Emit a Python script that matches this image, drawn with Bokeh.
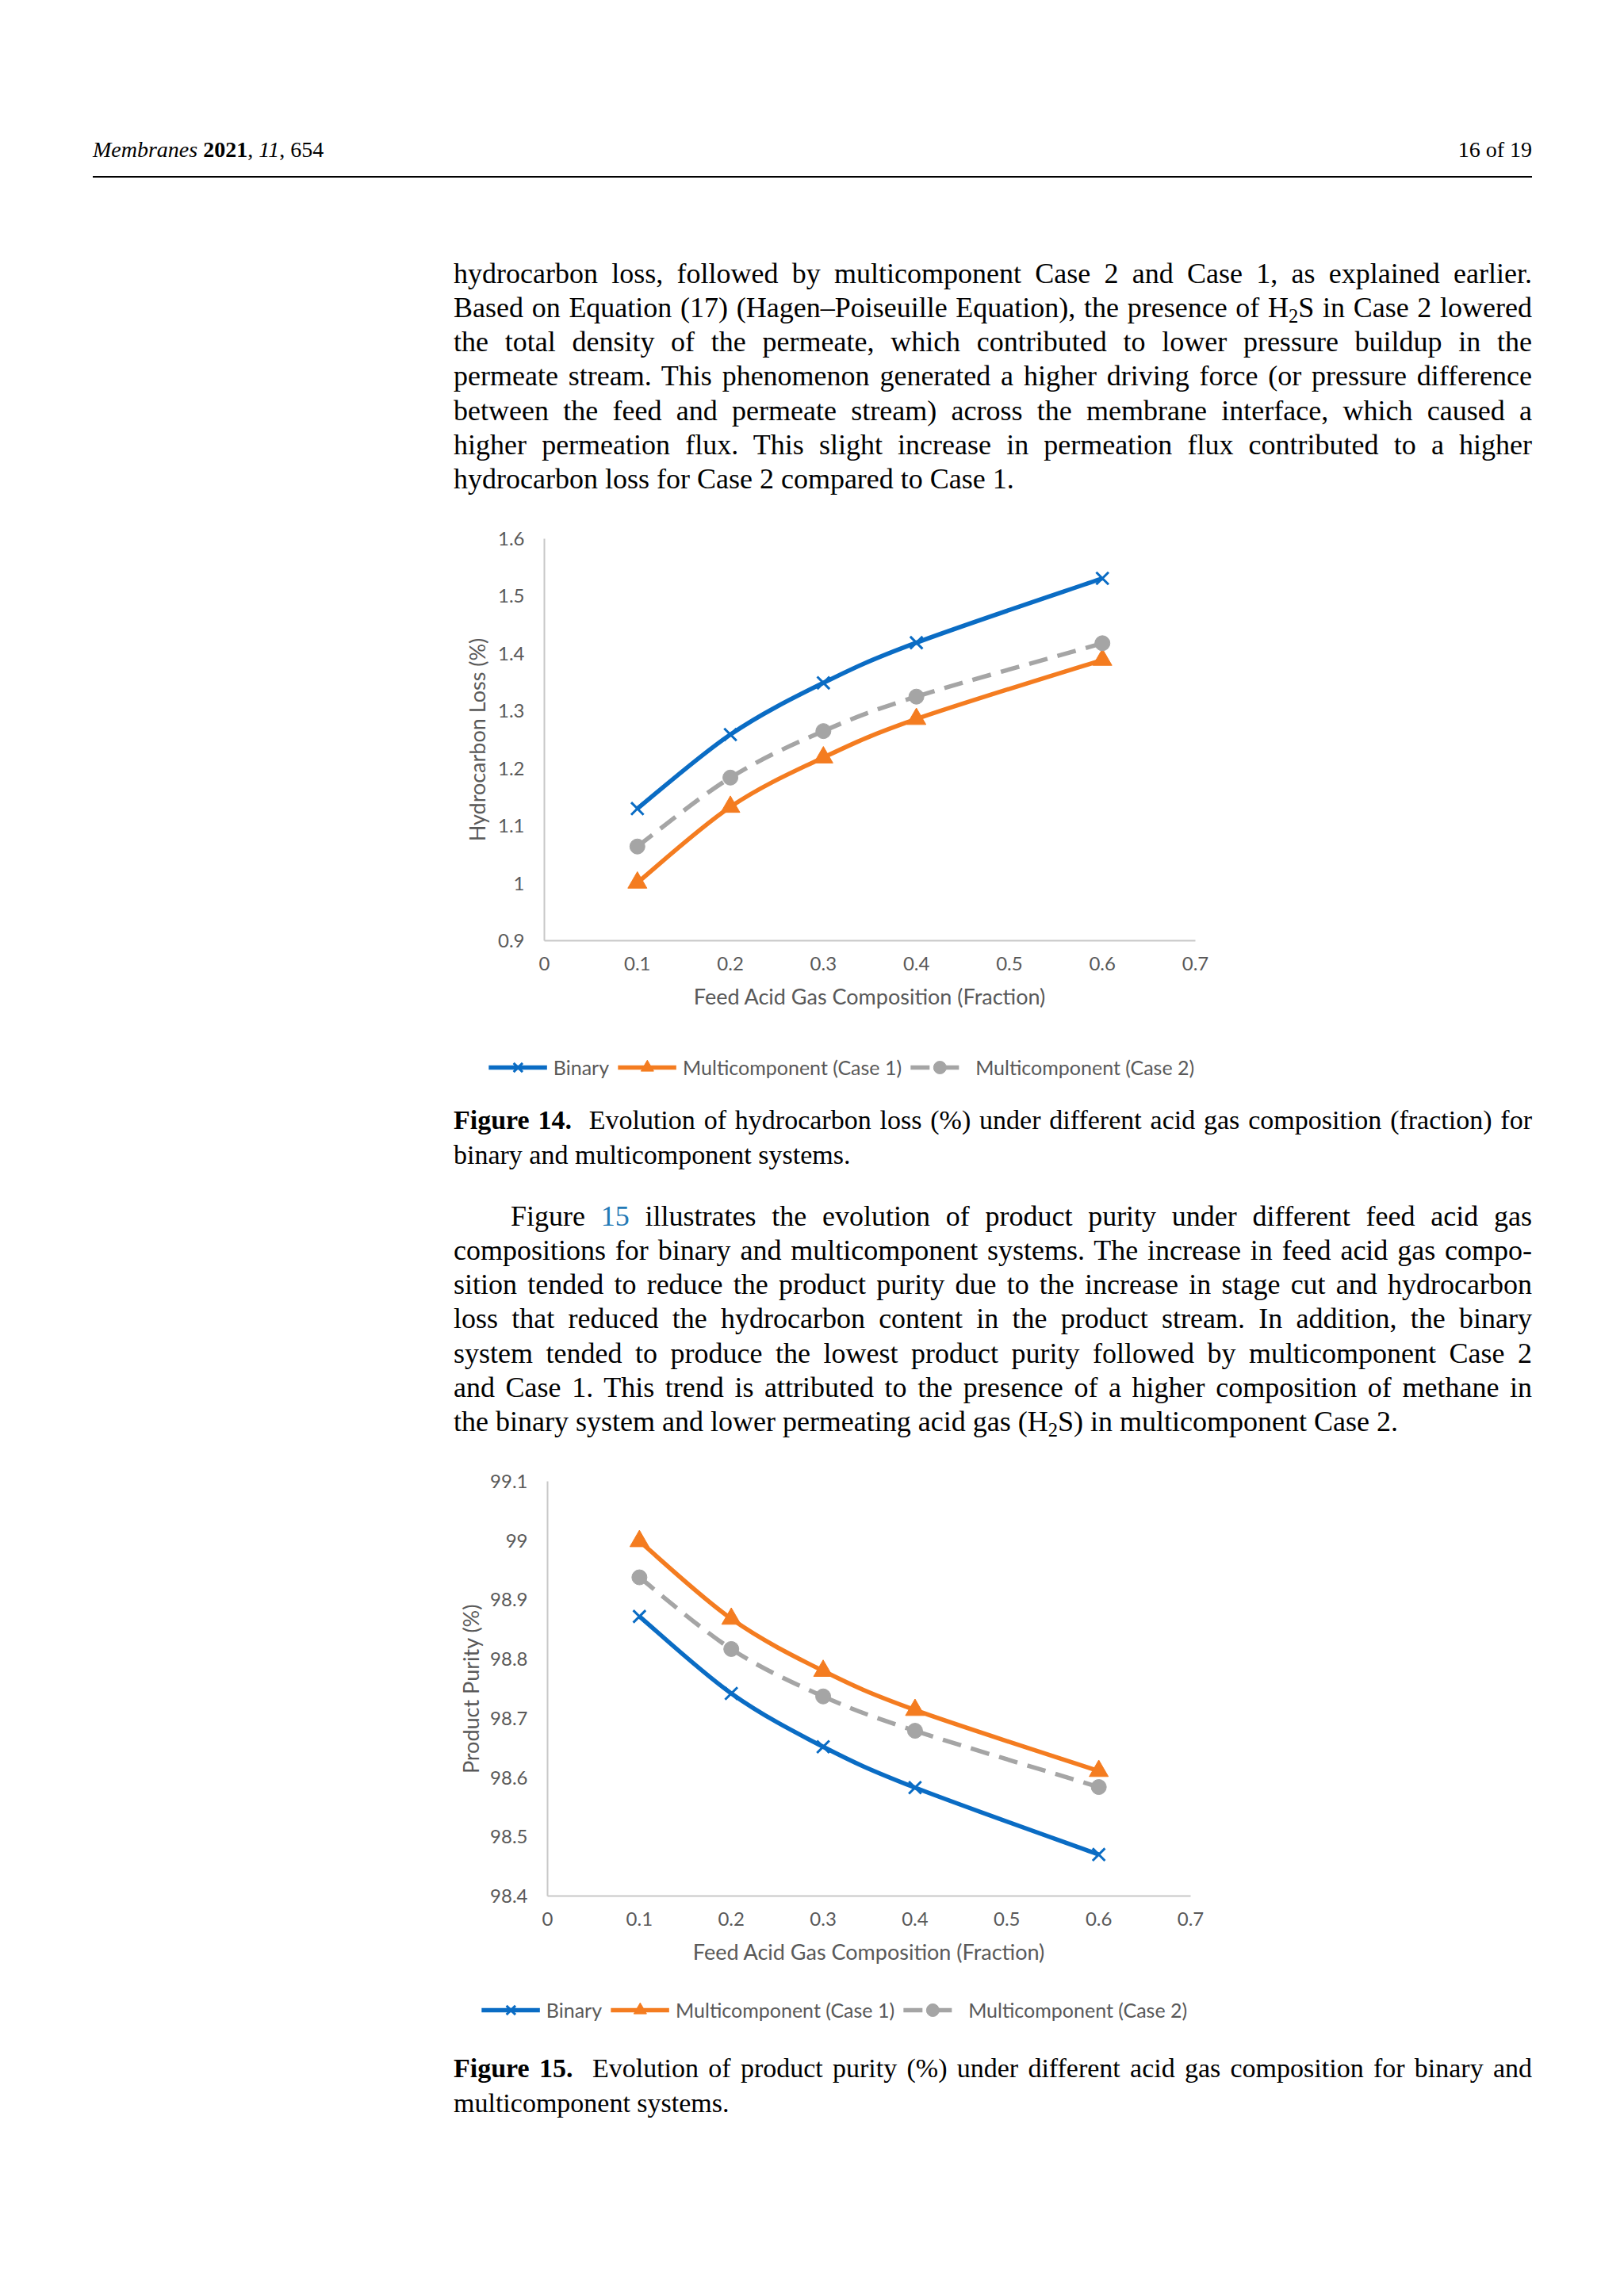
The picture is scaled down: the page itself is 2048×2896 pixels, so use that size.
import numpy as np
from bokeh.plotting import figure
from bokeh.models import Range1d, FixedTicker, Legend, LegendItem, Div, Column, Row
from bokeh.embed import file_html
from bokeh.resources import INLINE

# ---------------- data ----------------
x_frac = [0.1, 0.2, 0.3, 0.4, 0.6]
series_names = ["Binary", "Multicomponent (Case 1)", "Multicomponent (Case 2)"]

loss_binary = [1.130, 1.259, 1.349, 1.419, 1.531]
loss_case1 = [1.001, 1.133, 1.219, 1.286, 1.389]
loss_case2 = [1.064, 1.184, 1.265, 1.325, 1.418]

purity_binary = [98.872, 98.742, 98.652, 98.583, 98.470]
purity_case1 = [98.999, 98.868, 98.780, 98.714, 98.611]
purity_case2 = [98.938, 98.817, 98.737, 98.679, 98.584]

x_ticks = [0, 0.1, 0.2, 0.3, 0.4, 0.5, 0.6, 0.7]
x_tick_labels = ["0", "0.1", "0.2", "0.3", "0.4", "0.5", "0.6", "0.7"]
loss_ticks = [0.9, 1, 1.1, 1.2, 1.3, 1.4, 1.5, 1.6]
loss_tick_labels = ["0.9", "1", "1.1", "1.2", "1.3", "1.4", "1.5", "1.6"]
purity_ticks = [98.4, 98.5, 98.6, 98.7, 98.8, 98.9, 99, 99.1]
purity_tick_labels = ["98.4", "98.5", "98.6", "98.7", "98.8", "98.9", "99", "99.1"]

x_title = "Feed Acid Gas Composition (Fraction)"
loss_title = "Hydrocarbon Loss (%)"
purity_title = "Product Purity (%)"

# ---------------- styles ----------------
BLUE = "#0a6cc4"
ORANGE = "#f47c20"
GRAY = "#a5a5a5"
TXT = "#595959"
AX = "#c8c8c8"
CH_FONT = "Lato"
PAGE_W = 2032


def smooth(xs, ys):
    """Excel-like smoothed line: cubic Bezier control points from neighbours."""
    x = np.asarray(xs, float)
    y = np.asarray(ys, float)
    n = len(x)
    xp = np.concatenate([[x[0]], x, [x[-1]]])
    yp = np.concatenate([[y[0]], y, [y[-1]]])
    cx0 = x[:-1] + (xp[2:n + 1] - xp[0:n - 1]) / 6.0
    cy0 = y[:-1] + (yp[2:n + 1] - yp[0:n - 1]) / 6.0
    cx1 = x[1:] - (xp[3:n + 2] - xp[1:n]) / 6.0
    cy1 = y[1:] - (yp[3:n + 2] - yp[1:n]) / 6.0
    return dict(x0=x[:-1], y0=y[:-1], x1=x[1:], y1=y[1:],
                cx0=cx0, cy0=cy0, cx1=cx1, cy1=cy1)


def draw_series(p, ys_list):
    yb, y1, y2 = ys_list
    r1 = p.bezier(**smooth(x_frac, yb), line_color=BLUE, line_width=5.5)
    m1 = p.scatter(x_frac, yb, marker="x", size=22, line_color=BLUE, line_width=3)
    r2 = p.bezier(**smooth(x_frac, y1), line_color=ORANGE, line_width=5.5)
    m2 = p.scatter(x_frac, y1, marker="triangle", size=24, fill_color=ORANGE,
                   line_color=ORANGE)
    r3 = p.bezier(**smooth(x_frac, y2), line_color=GRAY, line_width=5.5,
                  line_dash="24 13")
    m3 = p.scatter(x_frac, y2, marker="circle", size=19, fill_color=GRAY,
                   line_color=GRAY)
    return [[r1, m1], [r2, m2], [r3, m3]]


def make_chart(ys_list, y_ticks, y_labels, y_title, height, b_top, b_bottom,
               b_left, b_right, y_title_standoff):
    p = figure(width=PAGE_W, height=height, output_backend="svg", toolbar_location=None,
               x_range=Range1d(x_ticks[0], x_ticks[-1]),
               y_range=Range1d(y_ticks[0], y_ticks[-1]),
               min_border_top=b_top, min_border_bottom=b_bottom,
               min_border_left=b_left, min_border_right=b_right)
    p.outline_line_color = None
    p.grid.visible = False
    p.background_fill_color = "white"
    p.border_fill_color = "white"

    for ax in (p.xaxis[0], p.yaxis[0]):
        ax.axis_line_color = AX
        ax.axis_line_width = 2
        ax.major_tick_line_color = None
        ax.minor_tick_line_color = None
        ax.major_tick_out = 0
        ax.minor_tick_out = 0
        ax.major_label_text_font = CH_FONT
        ax.major_label_text_font_size = "24px"
        ax.major_label_text_color = TXT
        ax.axis_label_text_font = CH_FONT
        ax.axis_label_text_font_size = "27px"
        ax.axis_label_text_font_style = "normal"
        ax.axis_label_text_color = TXT

    p.xaxis.ticker = FixedTicker(ticks=x_ticks)
    p.xaxis.major_label_overrides = dict(zip(x_ticks, x_tick_labels))
    p.xaxis.major_label_standoff = 20
    p.xaxis.axis_label = x_title
    p.xaxis.axis_label_standoff = 13

    p.yaxis.ticker = FixedTicker(ticks=y_ticks)
    p.yaxis.major_label_overrides = dict(zip(y_ticks, y_labels))
    p.yaxis.major_label_standoff = 25
    p.yaxis.axis_label = y_title
    p.yaxis.axis_label_standoff = y_title_standoff

    draw_series(p, ys_list)
    return p


def legend_strip(ys_list, height, b_left, b_right):
    """Legend row below a chart (series drawn outside its view, only the key shows)."""
    lf = figure(width=PAGE_W, height=height, output_backend="svg", toolbar_location=None,
                x_axis_type=None, y_axis_type=None,
                x_range=Range1d(x_ticks[0], x_ticks[-1]), y_range=Range1d(-3, -2),
                min_border_top=0, min_border_bottom=0,
                min_border_left=b_left, min_border_right=b_right)
    lf.outline_line_color = None
    lf.grid.visible = False
    lf.background_fill_color = "white"
    lf.border_fill_color = "white"
    rs = draw_series(lf, ys_list)
    items = [LegendItem(label=name, renderers=r) for name, r in zip(series_names, rs)]
    leg = Legend(items=items, orientation="horizontal", location="center",
                 border_line_color=None, background_fill_alpha=0,
                 label_text_font=CH_FONT, label_text_font_size="25px",
                 label_text_color=TXT, glyph_width=74, glyph_height=40,
                 label_height=40, label_standoff=8, spacing=11, padding=0,
                 margin=0)
    lf.add_layout(leg, "center")
    return lf


# ---------------- text helpers ----------------
SERIF = "'Liberation Serif', 'DejaVu Serif', serif"
SUB = "<sub style='font-size:0.68em;line-height:0;vertical-align:-0.28em'>2</sub>"
LINK = "<span style='color:#2479b5'>15</span>"
BODY = 36
CAP = 34


def line(html, page_left, page_right, center_y, div_top, justify=True,
         size=BODY, lh=44):
    top = center_y - lh / 2 - div_top
    left = page_left - 8
    width = page_right - page_left
    st = (f"position:absolute;left:{left}px;top:{top}px;width:{width}px;"
          f"height:{lh}px;line-height:{lh}px;font-size:{size}px;"
          f"font-family:{SERIF};color:#000;white-space:nowrap;")
    if justify:
        st += "text-align:justify;text-align-last:justify;"
    return f"<div style=\"{st}\">{html}</div>"


def box(inner, height):
    return (f"<div style=\"position:relative;width:{PAGE_W}px;height:{height}px;"
            f"overflow:hidden;background:white\">{inner}</div>")


TL, TR = 580, 1940

# Div A : page y 8 -> 650
A_TOP, A_H = 8, 642
a = []
a.append(line("<i>Membranes</i> <b>2021</b>, <i>11</i>, 654", 125, 1200, 197, A_TOP,
              justify=False, size=28))
a.append(f"<div style=\"position:absolute;left:{1200 - 8}px;top:{197 - 22 - A_TOP}px;"
         f"width:{1940 - 1200}px;height:44px;line-height:44px;text-align:right;"
         f"font-size:28px;font-family:{SERIF};color:#000\">16 of 19</div>")
a.append(f"<div style=\"position:absolute;left:{125 - 8}px;top:{231 - 1 - A_TOP}px;"
         f"width:{1940 - 125}px;height:2px;background:#000\"></div>")
p1 = [
    "hydrocarbon loss, followed by multicomponent Case 2 and Case 1, as explained earlier.",
    f"Based on Equation (17) (Hagen–Poiseuille Equation), the presence of H{SUB}S in Case 2 lowered",
    "the total density of the permeate, which contributed to lower pressure buildup in the",
    "permeate stream. This phenomenon generated a higher driving force (or pressure difference",
    "between the feed and permeate stream) across the membrane interface, which caused a",
    "higher permeation flux. This slight increase in permeation flux contributed to a higher",
    "hydrocarbon loss for Case 2 compared to Case 1.",
]
for i, t in enumerate(p1):
    a.append(line(t, TL, TR, 353 + 43.15 * i, A_TOP, justify=(i < len(p1) - 1)))
divA = Div(text=box("".join(a), A_H), width=PAGE_W, height=A_H, margin=0)

# Figure 1 : page y 650 -> 1310 ; frame 694..1515 x 687..1194
fig1 = make_chart([loss_binary, loss_case1, loss_case2], loss_ticks, loss_tick_labels,
                  loss_title, 660, 37, 116, 686, 2032 - 1507, 7)
# legend row 1 : page y 1310 -> 1398, centred at x 1069
leg1 = legend_strip([loss_binary, loss_case1, loss_case2], 88, 581, 2032 - 581 - 960)

# Div B : page y 1398 -> 1850
B_TOP, B_H = 1398, 452
b = []
b.append(line("<b>Figure 14.</b>&nbsp; Evolution of hydrocarbon loss (%) under different acid gas "
              "composition (fraction) for", TL, TR, 1421, B_TOP, size=CAP))
b.append(line("binary and multicomponent systems.", TL, TR, 1465, B_TOP,
              justify=False, size=CAP))
p2 = [
    f"Figure {LINK} illustrates the evolution of product purity under different feed acid gas",
    "compositions for binary and multicomponent systems. The increase in feed acid gas compo-",
    "sition tended to reduce the product purity due to the increase in stage cut and hydrocarbon",
    "loss that reduced the hydrocarbon content in the product stream. In addition, the binary",
    "system tended to produce the lowest product purity followed by multicomponent Case 2",
    "and Case 1. This trend is attributed to the presence of a higher composition of methane in",
    f"the binary system and lower permeating acid gas (H{SUB}S) in multicomponent Case 2.",
]
for i, t in enumerate(p2):
    left = 652 if i == 0 else TL
    b.append(line(t, left, TR, 1542 + 43.15 * i, B_TOP, justify=(i < len(p2) - 1)))
divB = Div(text=box("".join(b), B_H), width=PAGE_W, height=B_H, margin=0)

# Figure 2 : page y 1850 -> 2505 ; frame 698..1509 x 1876..2399
fig2 = make_chart([purity_binary, purity_case1, purity_case2], purity_ticks,
                  purity_tick_labels, purity_title, 655, 26, 106, 690, 2032 - 1501, 5)
# legend row 2 : page y 2505 -> 2581, centred at x 1060
leg2 = legend_strip([purity_binary, purity_case1, purity_case2], 76, 572, 2032 - 572 - 960)

# Div C : page y 2581 -> 2888
C_TOP, C_H = 2581, 307
c = []
c.append(line("<b>Figure 15.</b>&nbsp; Evolution of product purity (%) under different acid gas "
              "composition for binary and", TL, TR, 2617, C_TOP, size=CAP))
c.append(line("multicomponent systems.", TL, TR, 2661, C_TOP, justify=False, size=CAP))
divC = Div(text=box("".join(c), C_H), width=PAGE_W, height=C_H, margin=0)

# each plot in its own row so that plot frames are not aligned with each other
layout = Column(children=[divA,
                          Row(children=[fig1], spacing=0),
                          Row(children=[leg1], spacing=0),
                          divB,
                          Row(children=[fig2], spacing=0),
                          Row(children=[leg2], spacing=0),
                          divC], spacing=0)

with open("out.html", "w") as f:
    f.write(file_html(layout, INLINE))
